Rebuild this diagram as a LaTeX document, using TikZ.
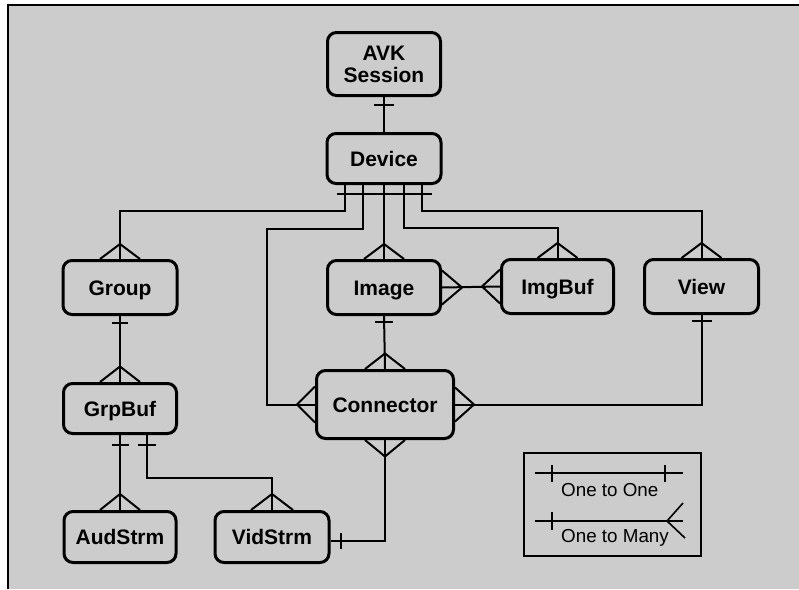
\documentclass[tikz,border=0pt]{standalone}
\usepackage{fontspec}
\setmainfont{Liberation Sans}
\usetikzlibrary{calc}
\definecolor{bg}{gray}{0.8}
\tikzset{
  entbase/.style={draw, line width=3pt, rounded corners=9pt, inner sep=0pt, align=center,
    font=\bfseries\fontsize{21}{22}\selectfont},
  ent/.style={entbase, text height=15pt, text depth=0pt},
  rel/.style={line width=2pt},
  leg/.style={line width=1.6pt},
  legtxt/.style={inner sep=0pt, font=\fontsize{18.8}{20}\selectfont},
}
\begin{document}
\begin{tikzpicture}[x=1pt,y=-1pt]
\useasboundingbox (0,0) rectangle (799,589);
\fill[white] (0,0) rectangle (799,589);
\fill[bg] (8,5) rectangle (799,589);
\draw[line width=1.5pt] (8,589) -- (8,5) -- (799,5);

% entities
\node[entbase, minimum width=113pt, minimum height=63pt] (avk) at (384,64) {AVK\\Session};
\node[ent, minimum width=114pt, minimum height=50pt] (dev) at (384,158.5) {Device};
\node[ent, minimum width=114pt, minimum height=54pt] (grp) at (120,287.5) {Group};
\node[ent, minimum width=113pt, minimum height=54pt] (img) at (384,287.5) {Image};
\node[ent, minimum width=112pt, minimum height=54pt] (ibuf) at (557.5,286.5) {ImgBuf};
\node[ent, minimum width=114pt, minimum height=54pt] (view) at (701.5,286.5) {View};
\node[ent, minimum width=137pt, minimum height=68pt] (con) at (385,404.5) {Connector};
\node[ent, minimum width=113pt, minimum height=50pt] (gbuf) at (120,408.5) {GrpBuf};
\node[ent, minimum width=112pt, minimum height=51pt] (aud) at (120,537) {AudStrm};
\node[ent, minimum width=114pt, minimum height=51pt] (vid) at (272,537) {VidStrm};

% AVK - Device
\draw[rel] (avk.south) -- (dev.north);
\draw[rel] ([shift={(-10pt,-7.5pt)}]avk.south) -- ++(20,0);

% Device bar
\draw[rel] ([shift={(-47pt,-8.5pt)}]dev.south) -- ++(95,0);

% Device - Group
\draw[rel] ([xshift=-39pt]dev.south) |- ([yshift=48pt]grp.north) -- (grp.north);
\draw[rel] ([xshift=-20pt]grp.north) -- ([yshift=15pt]grp.north) -- ([xshift=20pt]grp.north);

% Device - Connector
\coordinate (k1) at (267,229);
\draw[rel] ([xshift=-21pt]dev.south) |- (k1) |- (con.west);
\draw[rel] ([yshift=18pt]con.west) -- ([xshift=-18pt]con.west) -- ([yshift=-18pt]con.west);

% Device - Image
\draw[rel] (dev.south) -- (img.north);
\draw[rel] ([xshift=-20pt]img.north) -- ([yshift=15pt]img.north) -- ([xshift=20pt]img.north);

% Device - ImgBuf
\draw[rel] ([xshift=20pt]dev.south) |- ([yshift=30pt]ibuf.north) -- (ibuf.north);
\draw[rel] ([xshift=-20pt]ibuf.north) -- ([yshift=15pt]ibuf.north) -- ([xshift=20pt]ibuf.north);

% Device - View
\draw[rel] ([xshift=38pt]dev.south) |- ([yshift=47pt]view.north) -- (view.north);
\draw[rel] ([xshift=-20pt]view.north) -- ([yshift=15pt]view.north) -- ([xshift=20pt]view.north);

% Image - ImgBuf
\draw[rel] (img.east) -- (ibuf.west);
\draw[rel] ([yshift=17pt]img.east) -- ([xshift=20pt]img.east) -- ([yshift=-17pt]img.east);
\draw[rel] ([yshift=17pt]ibuf.west) -- ([xshift=-18pt]ibuf.west) -- ([yshift=-17pt]ibuf.west);

% Image - Connector
\draw[rel] (img.south) -- (con.north);
\draw[rel] ([shift={(-9pt,-5.5pt)}]img.south) -- ++(18,0);
\draw[rel] ([xshift=-20pt]con.north) -- ([yshift=15.5pt]con.north) -- ([xshift=20pt]con.north);

% Connector - View
\draw[rel] (con.east) -| (view.south);
\draw[rel] ([yshift=17pt]con.east) -- ([xshift=19pt]con.east) -- ([yshift=-17pt]con.east);
\draw[rel] ([shift={(-10pt,-5.5pt)}]view.south) -- ++(20,0);

% Group - GrpBuf
\draw[rel] (grp.south) -- (gbuf.north);
\draw[rel] ([shift={(-8pt,-7pt)}]grp.south) -- ++(16,0);
\draw[rel] ([xshift=-20pt]gbuf.north) -- ([yshift=15.5pt]gbuf.north) -- ([xshift=20pt]gbuf.north);

% GrpBuf - AudStrm
\draw[rel] (gbuf.south) -- (aud.north);
\draw[rel] ([shift={(-8pt,-9.5pt)}]gbuf.south) -- ++(17,0);
\draw[rel] ([xshift=-20pt]aud.north) -- ([yshift=16pt]aud.north) -- ([xshift=20pt]aud.north);

% GrpBuf - VidStrm
\draw[rel] ([xshift=27pt]gbuf.south) |- ([yshift=32pt]vid.north) -- (vid.north);
\draw[rel] ([shift={(18pt,-9.5pt)}]gbuf.south) -- ++(18,0);
\draw[rel] ([xshift=-21pt]vid.north) -- ([yshift=16pt]vid.north) -- ([xshift=21pt]vid.north);

% Connector - VidStrm
\draw[rel] (con.south) |- ([yshift=-4pt]vid.east);
\draw[rel] ([xshift=-20pt]con.south) -- ([yshift=-16.5pt]con.south) -- ([xshift=20pt]con.south);
\draw[rel] ([shift={(10.5pt,4pt)}]vid.east) -- ++(0,16);

% legend
\draw[leg] (524,453) rectangle (701,556);
\draw[leg] (535,473) -- (683,473);
\draw[leg] (552,465) -- (552,482);
\draw[leg] (665,465) -- (665,482);
\node[legtxt, anchor=base west] (l1) at (561,496) {One to One};
\draw[leg] (535,521) -- (683,521);
\draw[leg] (552,512) -- (552,530);
\draw[leg] (683,503) -- (667,521) -- (685,538);
\node[legtxt, anchor=base west] (l2) at (561,542) {One to Many};
\end{tikzpicture}
\end{document}
